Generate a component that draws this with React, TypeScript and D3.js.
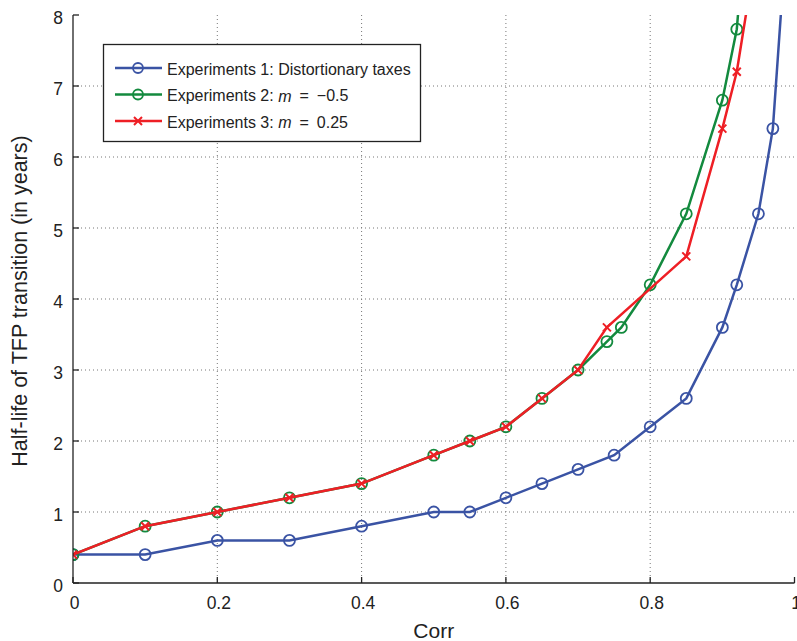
import React from "react";
import * as d3 from "d3";

const x1 = [0, 0.1, 0.2, 0.3, 0.4, 0.5, 0.55, 0.6, 0.65, 0.7, 0.75, 0.8, 0.85, 0.9, 0.92, 0.95, 0.97, 0.99];
const y1 = [0.4, 0.4, 0.6, 0.6, 0.8, 1.0, 1.0, 1.2, 1.4, 1.6, 1.8, 2.2, 2.6, 3.6, 4.2, 5.2, 6.4, 9.3];
const x2 = [0, 0.1, 0.2, 0.3, 0.4, 0.5, 0.55, 0.6, 0.65, 0.7, 0.74, 0.76, 0.8, 0.85, 0.9, 0.92, 0.95];
const y2 = [0.4, 0.8, 1.0, 1.2, 1.4, 1.8, 2.0, 2.2, 2.6, 3.0, 3.4, 3.6, 4.2, 5.2, 6.8, 7.8, 11.4];
const x3 = [0, 0.1, 0.2, 0.3, 0.4, 0.5, 0.55, 0.6, 0.65, 0.7, 0.74, 0.85, 0.9, 0.92, 0.95];
const y3 = [0.4, 0.8, 1.0, 1.2, 1.4, 1.8, 2.0, 2.2, 2.6, 3.0, 3.6, 4.6, 6.4, 7.2, 9.1];

const xTicks = [0, 0.2, 0.4, 0.6, 0.8, 1];
const xTickLabels = ["0", "0.2", "0.4", "0.6", "0.8", "1"];
const yTicks = [0, 1, 2, 3, 4, 5, 6, 7, 8];

const seriesNames = ["Experiments 1: Distortionary taxes", "Experiments 2: ", "Experiments 3: "];
const seriesSuffix = ["", "\u2002=\u2002\u22120.5", "\u2002=\u20020.25"];
const colors = ["#3a53a4", "#138a3e", "#ee1f25"];
const markers = ["circle", "circle", "x"];

export default function App() {
  const left = 73, right = 794.5, top = 15, bottom = 583;
  const x = d3.scaleLinear().domain([0, 1]).range([left, right]);
  const y = d3.scaleLinear().domain([0, 8]).range([bottom, top]);
  const font = "'Liberation Sans', Arial, Helvetica, sans-serif";
  const series = [
    { xs: x1, ys: y1 },
    { xs: x2, ys: y2 },
    { xs: x3, ys: y3 },
  ];
  const line = d3.line<[number, number]>().x(d => x(d[0])).y(d => y(d[1]));

  const marker = (kind: string, cx: number, cy: number, color: string, key: string) =>
    kind === "circle" ? (
      <circle key={key} cx={cx} cy={cy} r={5.5} fill="none" stroke={color} strokeWidth={1.8} />
    ) : (
      <path key={key} d={`M${cx - 4},${cy - 4}L${cx + 4},${cy + 4}M${cx - 4},${cy + 4}L${cx + 4},${cy - 4}`} stroke={color} strokeWidth={2} />
    );

  return (
    <svg width={797} height={641} style={{ position: "absolute", left: 0, top: 0 }} fontFamily={font}>
      <defs>
        <clipPath id="plotclip">
          <rect x={left} y={top} width={right - left + 10} height={bottom - top} />
        </clipPath>
      </defs>
      <rect width={797} height={641} fill="#fff" />
      {xTicks.slice(1, -1).map(t => (
        <line key={"gx" + t} x1={x(t)} x2={x(t)} y1={top} y2={bottom} stroke="#777" strokeWidth={1} strokeDasharray="1,3" />
      ))}
      {yTicks.slice(1, -1).map(t => (
        <line key={"gy" + t} x1={left} x2={right} y1={y(t)} y2={y(t)} stroke="#777" strokeWidth={1} strokeDasharray="1,3" />
      ))}
      <g clipPath="url(#plotclip)">
        {series.map((s, i) => {
          const pts: [number, number][] = s.xs.map((v, j) => [v, s.ys[j]]);
          return (
            <g key={"s" + i}>
              <path d={line(pts) || ""} fill="none" stroke={colors[i]} strokeWidth={2.5} />
              {pts.filter(p => p[1] <= 8).map((p, j) => marker(markers[i], x(p[0]), y(p[1]), colors[i], `m${i}-${j}`))}
            </g>
          );
        })}
      </g>
      <line x1={left} x2={left} y1={top} y2={bottom} stroke="#222" strokeWidth={1.3} />
      <line x1={left} x2={right} y1={bottom} y2={bottom} stroke="#222" strokeWidth={1.3} />
      {yTicks.map(t => (
        <g key={"yt" + t}>
          <line x1={left} x2={left + 6} y1={y(t)} y2={y(t)} stroke="#222" strokeWidth={1.3} />
          <text x={left - 10} y={y(t) + 3} textAnchor="end" dominantBaseline="central" fontSize={17.5} fill="#222">{t}</text>
        </g>
      ))}
      {xTicks.map((t, i) => (
        <g key={"xt" + t}>
          <line x1={x(t)} x2={x(t)} y1={bottom} y2={bottom - 6} stroke="#222" strokeWidth={1.3} />
          <text x={x(t) + 1.5} y={609} textAnchor="middle" fontSize={17.5} fill="#222">{xTickLabels[i]}</text>
        </g>
      ))}
      <text x={(left + right) / 2} y={638} textAnchor="middle" fontSize={21} fill="#222">Corr</text>
      <text transform={`translate(27,${(top + bottom) / 2 + 2}) rotate(-90)`} textAnchor="middle" fontSize={21.5} fill="#222">
        Half-life of TFP transition (in years)
      </text>
      <rect x={103.5} y={44.5} width={317} height={97} fill="#fff" stroke="#222" strokeWidth={1.3} />
      {seriesNames.map((n, i) => {
        const ly = 68 + i * 26.5;
        return (
          <g key={"lg" + i}>
            <line x1={115} x2={162} y1={ly} y2={ly} stroke={colors[i]} strokeWidth={2.5} />
            {markers[i] === "circle" ? (
              <circle cx={138} cy={ly} r={5} fill="none" stroke={colors[i]} strokeWidth={1.8} />
            ) : (
              <path d={`M134,${ly - 4}L142,${ly + 4}M134,${ly + 4}L142,${ly - 4}`} stroke={colors[i]} strokeWidth={2} />
            )}
            <text x={167} y={ly + 1} dominantBaseline="central" fontSize={16} fill="#222">
              {n}
              {i > 0 && <tspan fontStyle="italic">m</tspan>}
              {seriesSuffix[i]}
            </text>
          </g>
        );
      })}
    </svg>
  );
}
